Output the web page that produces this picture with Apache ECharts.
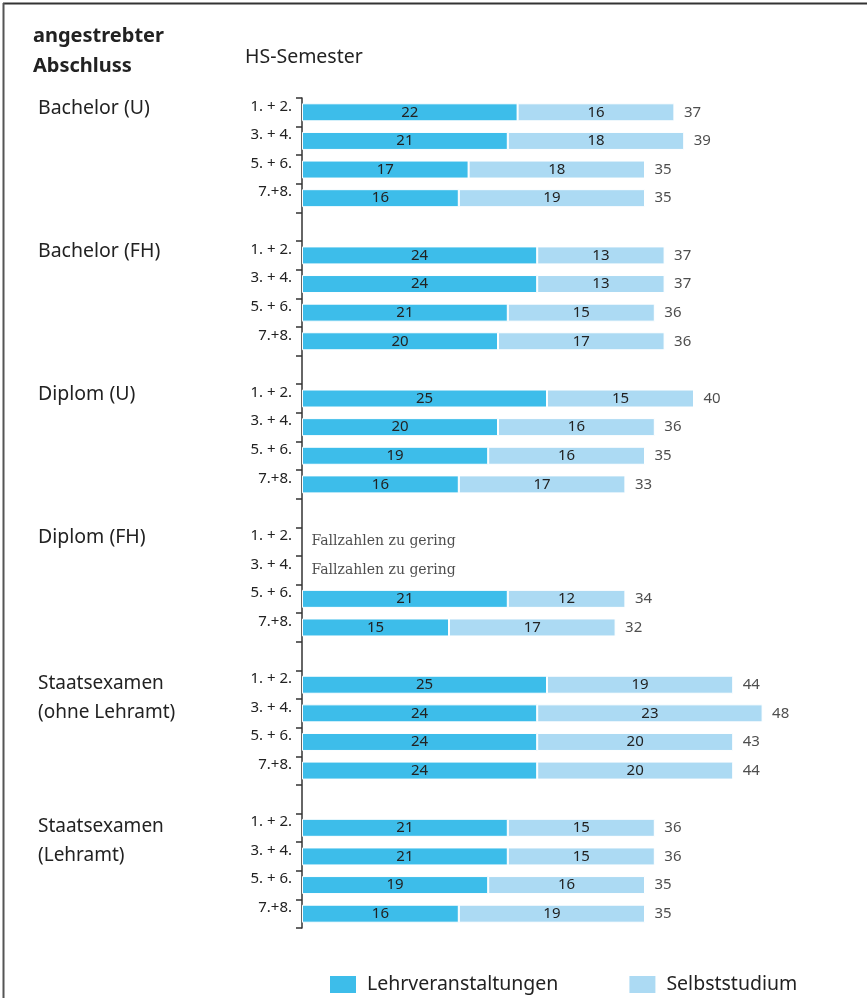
<!DOCTYPE html>
<html>
<head>
<meta charset="utf-8">
<script src="https://cdn.jsdelivr.net/npm/echarts@6/dist/echarts.min.js"></script>
<style>
  html, body { margin: 0; padding: 0; background: #fff; }
  #main { width: 867px; height: 998px; }
</style>
</head>
<body>
<div id="main"></div>
<script>
// group names (one entry per text line)
var groups = [
    ['Bachelor (U)'],
    ['Bachelor (FH)'],
    ['Diplom (U)'],
    ['Diplom (FH)'],
    ['Staatsexamen', '(ohne Lehramt)'],
    ['Staatsexamen', '(Lehramt)']
];
var semesters = ['1. + 2.', '3. + 4.', '5. + 6.', '7.+8.'];

// Stunden pro Woche, null = Fallzahlen zu gering
var lehrveranstaltungen = [22, 21, 17, 16,  24, 24, 21, 20,  25, 20, 19, 16,  null, null, 21, 15,  25, 24, 24, 24,  21, 21, 19, 16];
var selbststudium       = [16, 18, 18, 19,  13, 13, 15, 17,  15, 16, 16, 17,  null, null, 12, 17,  19, 23, 20, 20,  15, 15, 16, 19];
var gesamt              = [37, 39, 35, 35,  37, 37, 36, 36,  40, 36, 35, 33,  null, null, 34, 32,  44, 48, 43, 44,  36, 36, 35, 35];
var noteText = 'Fallzahlen zu gering';

var dark = '#3dbdea';
var light = '#acdaf3';

// build category list with one empty row between groups
var cats = [], semLabel = {}, grpLabel = {}, grpStyle = {};
var lehrData = [], selbstData = [], totalData = [], noteData = [];
groups.forEach(function (g, gi) {
    semesters.forEach(function (s, si) {
        var k = gi * 4 + si;
        var id = 'r' + k;
        cats.push(id);
        semLabel[id] = s;
        grpLabel[id] = g[si] || '';
        grpStyle[id] = g.length > 1 ? 'h' : 'g';
        var ci = cats.length - 1;
        if (lehrveranstaltungen[k] == null) {
            lehrData.push('-');
            selbstData.push('-');
            noteData.push([0, ci]);
        } else {
            lehrData.push(lehrveranstaltungen[k]);
            selbstData.push(selbststudium[k]);
            totalData.push({ value: [lehrveranstaltungen[k] + selbststudium[k], ci], label: { formatter: String(gesamt[k]) } });
        }
    });
    if (gi < groups.length - 1) {
        cats.push('gap' + gi);
        lehrData.push('-');
        selbstData.push('-');
    }
});

var font = 'Noto Sans';
var myChart = echarts.init(document.getElementById('main'));

option = {
    animation: false,
    backgroundColor: '#fff',
    textStyle: { fontFamily: font },
    grid: { left: 302, top: 98, width: 490, height: 830 },
    xAxis: {
        type: 'value', min: 0, max: 50, show: false
    },
    yAxis: [
        {
            type: 'category', data: cats, inverse: true,
            axisLine: { show: true, lineStyle: { color: '#333', width: 1.5 } },
            axisTick: { show: true, interval: 0, inside: false, length: 6, lineStyle: { color: '#333', width: 1.5 } },
            axisLabel: {
                interval: 0, margin: 10, color: '#222', fontFamily: font,
                formatter: function (v) { return semLabel[v] ? '{s|' + semLabel[v] + '}' : ''; },
                rich: { s: { fontSize: 15, color: '#222', fontFamily: font, padding: [0, 0, 12, 0] } }
            }
        },
        {
            type: 'category', data: cats, inverse: true, position: 'left',
            axisLine: { show: false }, axisTick: { show: false },
            axisLabel: {
                interval: 0, margin: 264, align: 'left', color: '#222', fontFamily: font,
                formatter: function (v) { return grpLabel[v] ? '{' + grpStyle[v] + '|' + grpLabel[v] + '}' : ''; },
                rich: {
                    g: { fontSize: 19.5, color: '#222', fontFamily: font, padding: [0, 0, 8, 0] },
                    h: { fontSize: 19, color: '#222', fontFamily: font, padding: [0, 0, 2, 0] }
                }
            }
        }
    ],
    legend: {
        data: ['Lehrveranstaltungen', 'Selbststudium'],
        left: 323, top: 969, icon: 'rect',
        itemWidth: 28, itemHeight: 19, itemGap: 69,
        textStyle: { fontSize: 19.5, color: '#222', fontFamily: font, padding: [0, 0, 0, 5] }
    },
    series: [
        {
            name: 'Lehrveranstaltungen', type: 'bar', stack: 'h', barWidth: 18,
            data: lehrData,
            itemStyle: { color: dark, borderColor: '#fff', borderWidth: 1 },
            label: { show: true, position: 'inside', fontSize: 15, color: '#222', fontFamily: font }
        },
        {
            name: 'Selbststudium', type: 'bar', stack: 'h', barWidth: 18,
            data: selbstData,
            itemStyle: { color: light, borderColor: '#fff', borderWidth: 1 },
            label: { show: true, position: 'inside', fontSize: 15, color: '#222', fontFamily: font }
        },
        {
            name: 'gesamt', type: 'scatter', symbolSize: 1,
            itemStyle: { color: 'rgba(0,0,0,0)' },
            data: totalData,
            label: { show: true, position: 'right', distance: 9, fontSize: 15, color: '#222', fontFamily: font }
        },
        {
            name: 'note', type: 'scatter', symbolSize: 1,
            itemStyle: { color: 'rgba(0,0,0,0)' },
            data: noteData,
            label: {
                show: true, position: 'right', distance: 9, fontSize: 14, color: '#222',
                fontFamily: 'DejaVu Serif', formatter: noteText
            }
        }
    ],
    graphic: [
        { type: 'line', shape: { x1: 3, y1: 3.5, x2: 867, y2: 3.5 }, style: { stroke: '#333', lineWidth: 2 } },
        { type: 'line', shape: { x1: 3.5, y1: 3, x2: 3.5, y2: 998 }, style: { stroke: '#555', lineWidth: 2 } },
        {
            type: 'text', left: 33, top: 21,
            style: { text: 'angestrebter\nAbschluss', font: 'bold 20px "Noto Sans"', fill: '#222', lineHeight: 30 }
        },
        {
            type: 'text', left: 245, top: 47,
            style: { text: 'HS-Semester', font: '19.5px "Noto Sans"', fill: '#222' }
        }
    ]
};

if (option && typeof option === "object") {
    myChart.setOption(option, true);
}
</script>
</body>
</html>
